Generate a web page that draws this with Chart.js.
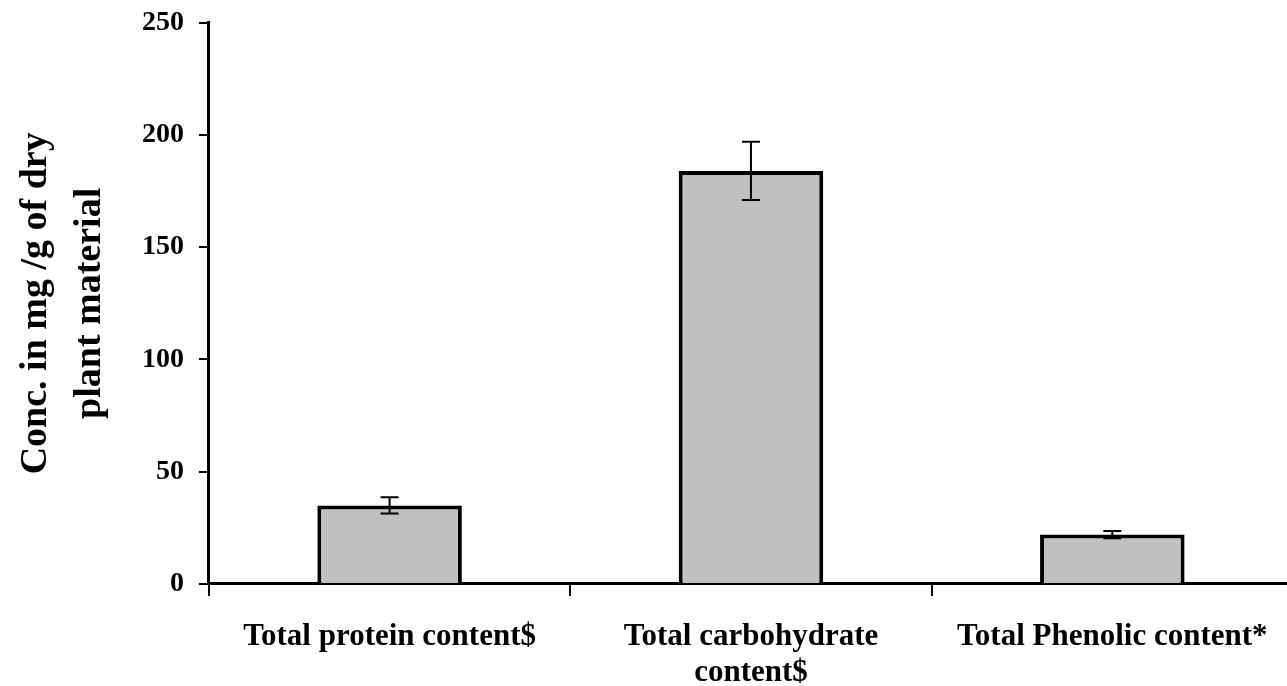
<!DOCTYPE html>
<html lang="en">
<head>
    <meta charset="UTF-8">
    <title>Conc. in mg/g of dry plant material</title>
    <script src="https://cdn.jsdelivr.net/npm/chart.js"></script>
    <style>
        html, body { margin: 0; padding: 0; background: #fff; overflow: hidden; }
        /* холст чуть больше окна: лишние поля сверху и снизу уходят за край */
        #wrap { width: 1293px; height: 723px; margin-top: -9px; }
    </style>
</head>
<body>
    <div id="wrap">
        <canvas id="conc" width="1293" height="723"></canvas>
    </div>
    <script>
        // Данные с графика
        const categories = [
            ['Total protein content$'],
            ['Total carbohydrate', 'content$'],
            ['Total Phenolic content*']
        ];
        const values = [35, 184, 22];
        const errors = [3.6, 13, 1.6];
        const yTicks = [0, 50, 100, 150, 200, 250];

        const fontFamily = '"Liberation Serif", "Times New Roman", serif';

        // Планки погрешностей
        const errorBars = {
            id: 'errorBars',
            afterDatasetsDraw(chart) {
                const { ctx, scales: { y } } = chart;
                const meta = chart.getDatasetMeta(0);
                ctx.save();
                ctx.strokeStyle = '#000';
                ctx.lineWidth = 2;
                meta.data.forEach((bar, i) => {
                    const top = y.getPixelForValue(values[i] + errors[i]);
                    const bottom = y.getPixelForValue(values[i] - errors[i]);
                    const cap = 9;
                    ctx.beginPath();
                    ctx.moveTo(bar.x, top);
                    ctx.lineTo(bar.x, bottom);
                    ctx.moveTo(bar.x - cap, top);
                    ctx.lineTo(bar.x + cap, top);
                    ctx.moveTo(bar.x - cap, bottom);
                    ctx.lineTo(bar.x + cap, bottom);
                    ctx.stroke();
                });
                ctx.restore();
            }
        };

        new Chart(document.getElementById('conc'), {
            type: 'bar',
            data: {
                labels: categories,
                datasets: [{
                    data: values,
                    backgroundColor: '#c0c0c0',
                    borderColor: '#000',
                    borderWidth: 4,
                    barPercentage: 0.4,
                    categoryPercentage: 1.0
                }]
            },
            options: {
                responsive: false,
                animation: false,
                layout: { padding: { top: 0, left: 0, right: 0, bottom: 0 } },
                plugins: {
                    legend: { display: false },
                    tooltip: { enabled: false }
                },
                scales: {
                    x: {
                        offset: true,
                        border: { display: true, color: '#000', width: 3 },
                        grid: {
                            offset: true,
                            drawOnChartArea: false,
                            drawTicks: true,
                            tickLength: 12,
                            color: '#000',
                            lineWidth: 2
                        },
                        ticks: {
                            color: '#000',
                            padding: 24,
                            maxRotation: 0,
                            autoSkip: false,
                            font: { family: fontFamily, size: 31, weight: 'bold', lineHeight: 1.13 }
                        }
                    },
                    y: {
                        min: 0,
                        max: 250,
                        afterBuildTicks: (scale) => {
                            scale.ticks = yTicks.map(v => ({ value: v }));
                        },
                        border: { display: true, color: '#000', width: 3 },
                        grid: {
                            drawOnChartArea: false,
                            drawTicks: true,
                            tickLength: 10,
                            color: '#000',
                            lineWidth: 2
                        },
                        ticks: {
                            color: '#000',
                            padding: 15,
                            font: { family: fontFamily, size: 28, weight: 'bold' }
                        },
                        title: {
                            display: true,
                            text: ['Conc. in mg /g of dry', 'plant material'],
                            color: '#000',
                            padding: { top: 9, bottom: 10 },
                            font: { family: fontFamily, size: 38, weight: 'bold', lineHeight: 1.42 }
                        }
                    }
                }
            },
            plugins: [errorBars]
        });
    </script>
</body>
</html>
